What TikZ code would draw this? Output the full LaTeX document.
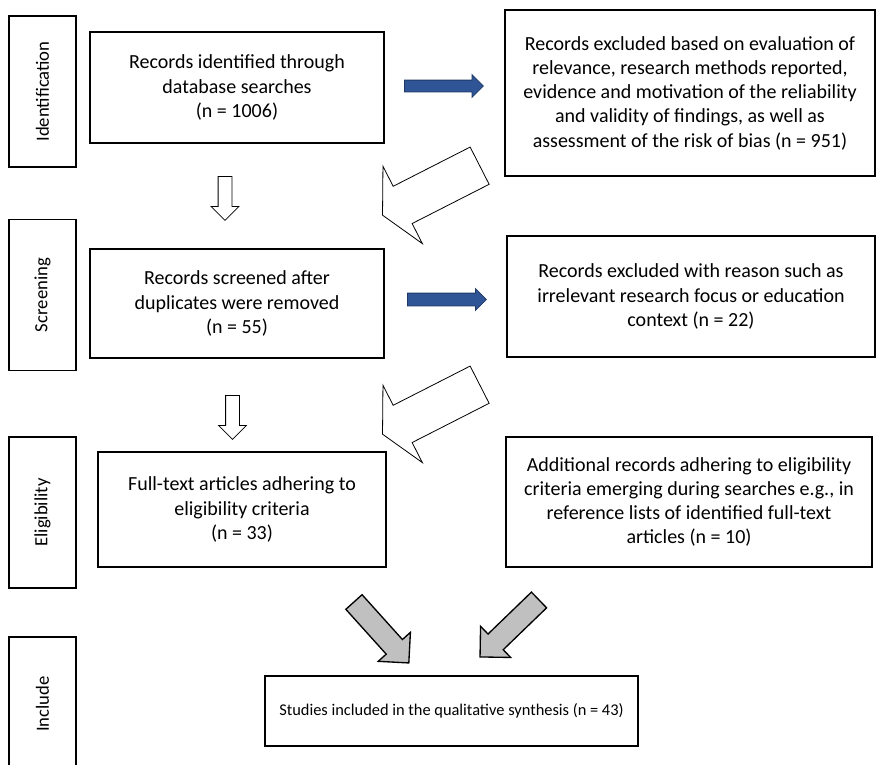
\documentclass[tikz,border=0pt]{standalone}
\usepackage{fontspec}
\setmainfont{Carlito}
\usetikzlibrary{shapes.arrows}
\definecolor{arrowblue}{HTML}{2F5597}
\definecolor{arrowedge}{HTML}{1F3864}
\definecolor{arrowgrey}{HTML}{C0C0C0}
\newlength\pxu
\setlength\pxu{0.75pt}

\begin{document}
\begin{tikzpicture}[
  x=0.75pt, y=-0.75pt,
  stage/.style={
    draw, line width=0.8pt, inner sep=0pt, rotate=90,
    minimum width=151\pxu, minimum height=67\pxu,
    font=\fontsize{14}{17}\selectfont
  },
  recbox/.style={
    draw, line width=0.8pt, inner sep=0pt, align=center,
    font=\fontsize{15}{18.2}\selectfont
  },
  blockarrow/.style={
    single arrow, draw, line width=0.6pt, inner xsep=0pt,
    anchor=tail, single arrow tip angle=90
  },
  bluearrow/.style={
    blockarrow, draw=arrowedge, fill=arrowblue,
    minimum height=79\pxu, minimum width=22\pxu,
    inner ysep=5.5\pxu, single arrow head extend=5.5\pxu
  },
  downarrow/.style={
    blockarrow, fill=white, rotate=-90,
    minimum height=44\pxu, minimum width=27\pxu,
    inner ysep=6.5\pxu, single arrow head extend=7\pxu
  },
  backarrow/.style={
    blockarrow, fill=white, rotate=207,
    minimum height=109\pxu, minimum width=86\pxu,
    inner ysep=20.5\pxu, single arrow head extend=22.5\pxu,
    single arrow tip angle=125
  },
  greyarrow/.style={
    blockarrow, fill=arrowgrey, line width=1pt,
    minimum height=82\pxu, minimum width=42\pxu,
    inner ysep=10.25\pxu, single arrow head extend=10.75\pxu
  }
]
  \useasboundingbox (0,0) rectangle (876,765);

  % stages
  \node[stage] (ident) at (42.5,91.5) {Identification};
  \node[stage] (screen) at (42.5,295) {Screening};
  \node[stage] (elig) at (42.5,512.5) {Eligibility};
  \node[stage, minimum width=134\pxu] (incl) at (42.5,704) {Include};

  % main column
  \node[recbox, minimum width=294\pxu, minimum height=111\pxu] (rec1) at (237,87.5)
    {Records identified through\\database searches\\(n = 1006)};
  \node[recbox, minimum width=294\pxu, minimum height=109\pxu] (rec2) at (237,303.5)
    {Records screened after\\duplicates were removed\\(n = 55)};
  \node[recbox, minimum width=288\pxu, minimum height=115\pxu] (rec3) at (242,509.5)
    {Full-text articles adhering to\\eligibility criteria\\(n = 33)};

  % right column
  \node[recbox, minimum width=370\pxu, minimum height=166\pxu] (exc1) at (690,93)
    {Records excluded based on evaluation of\\relevance, research methods reported,\\evidence and motivation of the reliability\\and validity of findings, as well as\\assessment of the risk of bias (n = 951)};
  \node[recbox, minimum width=368\pxu, minimum height=121\pxu] (exc2) at (691,296.5)
    {Records excluded with reason such as\\irrelevant research focus or education\\context (n = 22)};
  \node[recbox, minimum width=366\pxu, minimum height=130\pxu] (add3) at (689,502)
    {Additional records adhering to eligibility\\criteria emerging during searches e.g., in\\reference lists of identified full-text\\articles (n = 10)};

  % result
  \node[recbox, minimum width=373\pxu, minimum height=70\pxu,
    font=\fontsize{12.3}{14.5}\selectfont] (final) at (451.5,711)
    {Studies included in the qualitative synthesis (n = 43)};

  % block arrows
  \node[bluearrow] (out1) at (404,86) {};
  \node[bluearrow, inner ysep=6\pxu, minimum width=21\pxu,
    single arrow head extend=4.5\pxu] (out2) at (407,299.5) {};
  \node[downarrow] (down1) at (225,176) {};
  \node[downarrow] (down2) at (232.5,395) {};
  \node[backarrow] (back1) at (480,165.5) {};
  \node[backarrow] (back2) at (480,384.5) {};
  \node[greyarrow, rotate=-48] (join1) at (353.5,601.5) {};
  \node[greyarrow, rotate=224] (join2) at (539.5,599.5) {};
\end{tikzpicture}
\end{document}
